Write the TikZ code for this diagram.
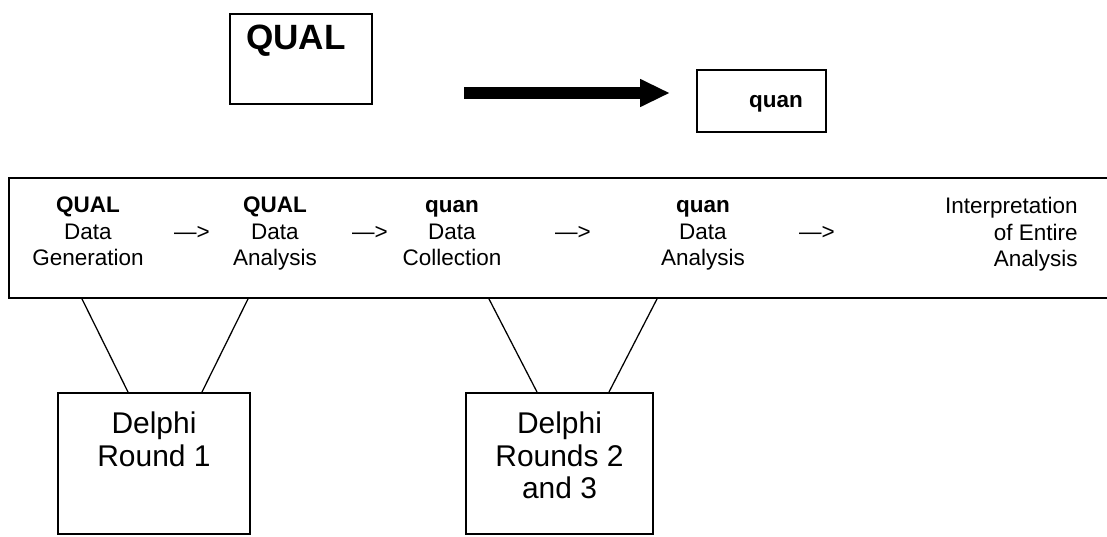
\documentclass[tikz,border=0pt]{standalone}
\usepackage{fontspec}
\setmainfont{Liberation Sans}
\usetikzlibrary{arrows.meta}

\begin{document}
\begin{tikzpicture}[scale=1.0,
  box/.style={draw, line width=1.4pt, inner sep=0pt},
  stagetxt/.style={anchor=north, inner sep=0pt, align=center, font=\fontsize{16}{18.8}\selectfont},
  stagearr/.style={inner sep=0pt, font=\fontsize{16}{18.8}\selectfont},
  delphitxt/.style={anchor=north, inner sep=0pt, align=center, font=\fontsize{21.3}{22.8}\selectfont},
  leg/.style={line width=0.9pt}]
\useasboundingbox (0,0) rectangle (27.675,-13.425);

\node[box, minimum width=3.55cm, minimum height=2.25cm] (qualbox) at (7.525,-1.475) {};
\node[anchor=north, inner sep=0pt, font=\fontsize{25}{30}\selectfont\bfseries] (qual) at (7.4,-0.625) {QUAL};
\coordinate (shaftstart) at (11.6,-2.325);
\coordinate (shafttip) at (16.75,-2.325);
\draw[line width=0.3cm, -{Triangle[length=0.75cm, width=0.65cm]}] (shaftstart) -- (shafttip);
\node[box, minimum width=3.225cm, minimum height=1.55cm] (quanbox) at (19.0375,-2.525) {};
\node[inner sep=0pt, font=\fontsize{16}{19}\selectfont\bfseries] (quan) at (19.4,-2.6) {quan};

\node[box, minimum width=28.6cm, minimum height=3cm, anchor=north west] (stages) at (0.2,-4.425) {};
\node[stagetxt] (qualgen) at (2.2,-4.925) {\textbf{QUAL}\\Data\\Generation};
\node[stagetxt] (qualana) at (6.875,-4.925) {\textbf{QUAL}\\Data\\Analysis};
\node[stagetxt] (quancol) at (11.3,-4.925) {\textbf{quan}\vphantom{\textbf{QUAL}}\\Data\\Collection};
\node[stagetxt] (quanana) at (17.575,-4.925) {\textbf{quan}\vphantom{\textbf{QUAL}}\\Data\\Analysis};
\node[stagetxt, anchor=north east, align=right] (interp) at (26.95,-4.925) {Interpretation\vphantom{\textbf{QUAL}}\\of Entire\\Analysis};
\node[stagearr] (arra) at (4.8,-5.825) {—>};
\node[stagearr] (arrb) at (9.25,-5.825) {—>};
\node[stagearr] (arrc) at (14.325,-5.825) {—>};
\node[stagearr] (arrd) at (20.425,-5.825) {—>};

\node[box, minimum width=4.8cm, minimum height=3.525cm, anchor=north west] (round1) at (1.425,-9.8) {};
\node[delphitxt] (round1txt) at ([yshift=-0.5cm]round1.north) {Delphi\\Round 1};
\node[box, minimum width=4.675cm, minimum height=3.525cm, anchor=north west] (round23) at (11.625,-9.8) {};
\node[delphitxt] (round23txt) at ([yshift=-0.5cm]round23.north) {Delphi\\Rounds 2\\and 3};

\draw[leg] ([xshift=1.85cm]stages.south west) -- ([xshift=1.775cm]round1.north west);
\draw[leg] ([xshift=6.0cm]stages.south west) -- ([xshift=3.625cm]round1.north west);
\draw[leg] ([xshift=12.025cm]stages.south west) -- ([xshift=1.8cm]round23.north west);
\draw[leg] ([xshift=16.225cm]stages.south west) -- ([xshift=3.6cm]round23.north west);
\end{tikzpicture}
\end{document}
